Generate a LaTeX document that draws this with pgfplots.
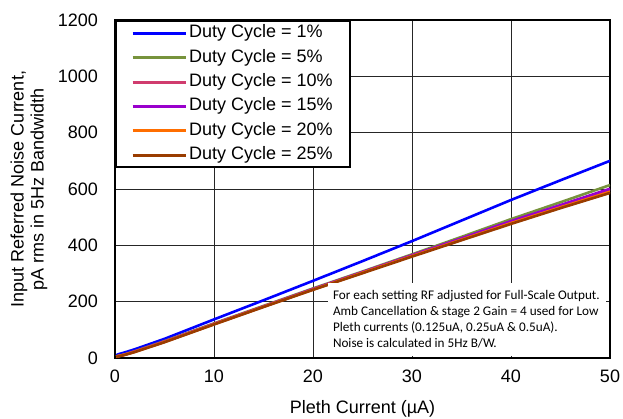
\documentclass[border=0pt]{standalone}
\usepackage{fontspec}
\setmainfont{Liberation Sans}
\newfontfamily\calibri{Carlito}
\usepackage{pgfplots}
\pgfplotsset{compat=1.18}
\definecolor{c1}{RGB}{0,0,255}
\definecolor{c5}{RGB}{119,147,60}
\definecolor{c10}{RGB}{208,60,110}
\definecolor{c15}{RGB}{153,0,204}
\definecolor{c20}{RGB}{255,110,0}
\definecolor{c25}{RGB}{153,60,0}
\begin{document}
\fontsize{18}{21.6}\selectfont
\begin{tikzpicture}
\useasboundingbox (-115pt,-60pt) rectangle (508pt,358pt);
\begin{axis}[
  at={(0pt,0pt)}, anchor=south west,
  scale only axis, width=495pt, height=338pt,
  xmin=0, xmax=50, ymin=0, ymax=1200,
  xtick={0,10,20,30,40,50}, ytick={0,200,400,600,800,1000,1200},
  grid=major, major grid style={black!85, line width=0.9pt},
  axis line style={line width=2.2pt, black},
  major tick length=0pt,
  /pgf/number format/assume math mode=true,
  /pgf/number format/1000 sep={},
  scaled ticks=false,
  tick label style={font=\fontsize{18}{21.6}\selectfont},
  x tick label style={yshift=-6pt},
  y tick label style={xshift=-11pt},
  xlabel={Pleth Current (µA)},
  ylabel={Input Referred Noise Current,\\pA rms in 5Hz Bandwidth},
  every axis x label/.style={at={(axis description cs:0.5,0)}, anchor=north, yshift=-36pt, font=\fontsize{18}{21.6}\selectfont},
  every axis y label/.style={at={(axis description cs:-0.1737,0.5)}, rotate=90, anchor=center, align=center, font=\fontsize{18}{20}\selectfont},
  legend cell align=left,
  legend style={at={(axis description cs:0,1)}, anchor=north west, draw=black, line width=2.4pt, fill=white,
    inner xsep=15pt, inner ysep=1.5pt, row sep=3.4pt,
    font=\fontsize{18}{21.6}\selectfont,
    nodes={inner xsep=2pt, inner ysep=2pt, text height=13pt, text depth=4pt}},
  legend image code/.code={\draw[#1, line width=3pt] (0pt,0pt) -- (53pt,0pt);},
  every axis plot/.append style={line width=2.6pt, no markers},
]
\addplot[c1] coordinates {(0.125,10)(0.25,12)(0.5,15)(1,20)(2,31)(5,68)(10,137)(15,205)(20,274)(25,344)(30,415)(35,488)(40,561)(45,631)(50,700)};
\addplot[c5] coordinates {(0.125,5)(0.25,7)(0.5,9)(1,13)(2,24)(5,60)(10,123)(15,185)(20,247)(25,307)(30,368)(35,430)(40,493)(45,553)(50,614)};
\addplot[c10] coordinates {(0.125,5)(0.25,6)(0.5,8)(1,12)(2,23)(5,58)(10,121)(15,183)(20,244)(25,304)(30,364)(35,424)(40,484)(45,541)(50,598)};
\addplot[c15] coordinates {(0.125,5)(0.25,6)(0.5,8)(1,12)(2,23)(5,58)(10,121)(15,183)(20,245)(25,305)(30,365)(35,425)(40,486)(45,543)(50,601)};
\addplot[c20] coordinates {(0.125,5)(0.25,6)(0.5,8)(1,12)(2,22)(5,57)(10,120)(15,182)(20,243)(25,303)(30,362)(35,420)(40,479)(45,535)(50,590)};
\addplot[c25] coordinates {(0.125,4)(0.25,5)(0.5,7)(1,11)(2,21)(5,56)(10,119)(15,181)(20,242)(25,301)(30,360)(35,418)(40,476)(45,532)(50,586)};
\legend{Duty Cycle = 1\%, Duty Cycle = 5\%, Duty Cycle = 10\%, Duty Cycle = 15\%, Duty Cycle = 20\%, Duty Cycle = 25\%}
\fill[white] (axis cs:21.5,6) rectangle (axis cs:49.6,266);
\node[anchor=north west, align=left, inner sep=0pt, font=\calibri\fontsize{13.2}{16}\selectfont] at (axis cs:22.0,241) {For each setting RF adjusted for Full-Scale Output.\\Amb Cancellation \& stage 2 Gain = 4 used for Low\\Pleth currents (0.125uA, 0.25uA \& 0.5uA).\\Noise is calculated in 5Hz B/W.};
\end{axis}
\end{tikzpicture}
\end{document}
